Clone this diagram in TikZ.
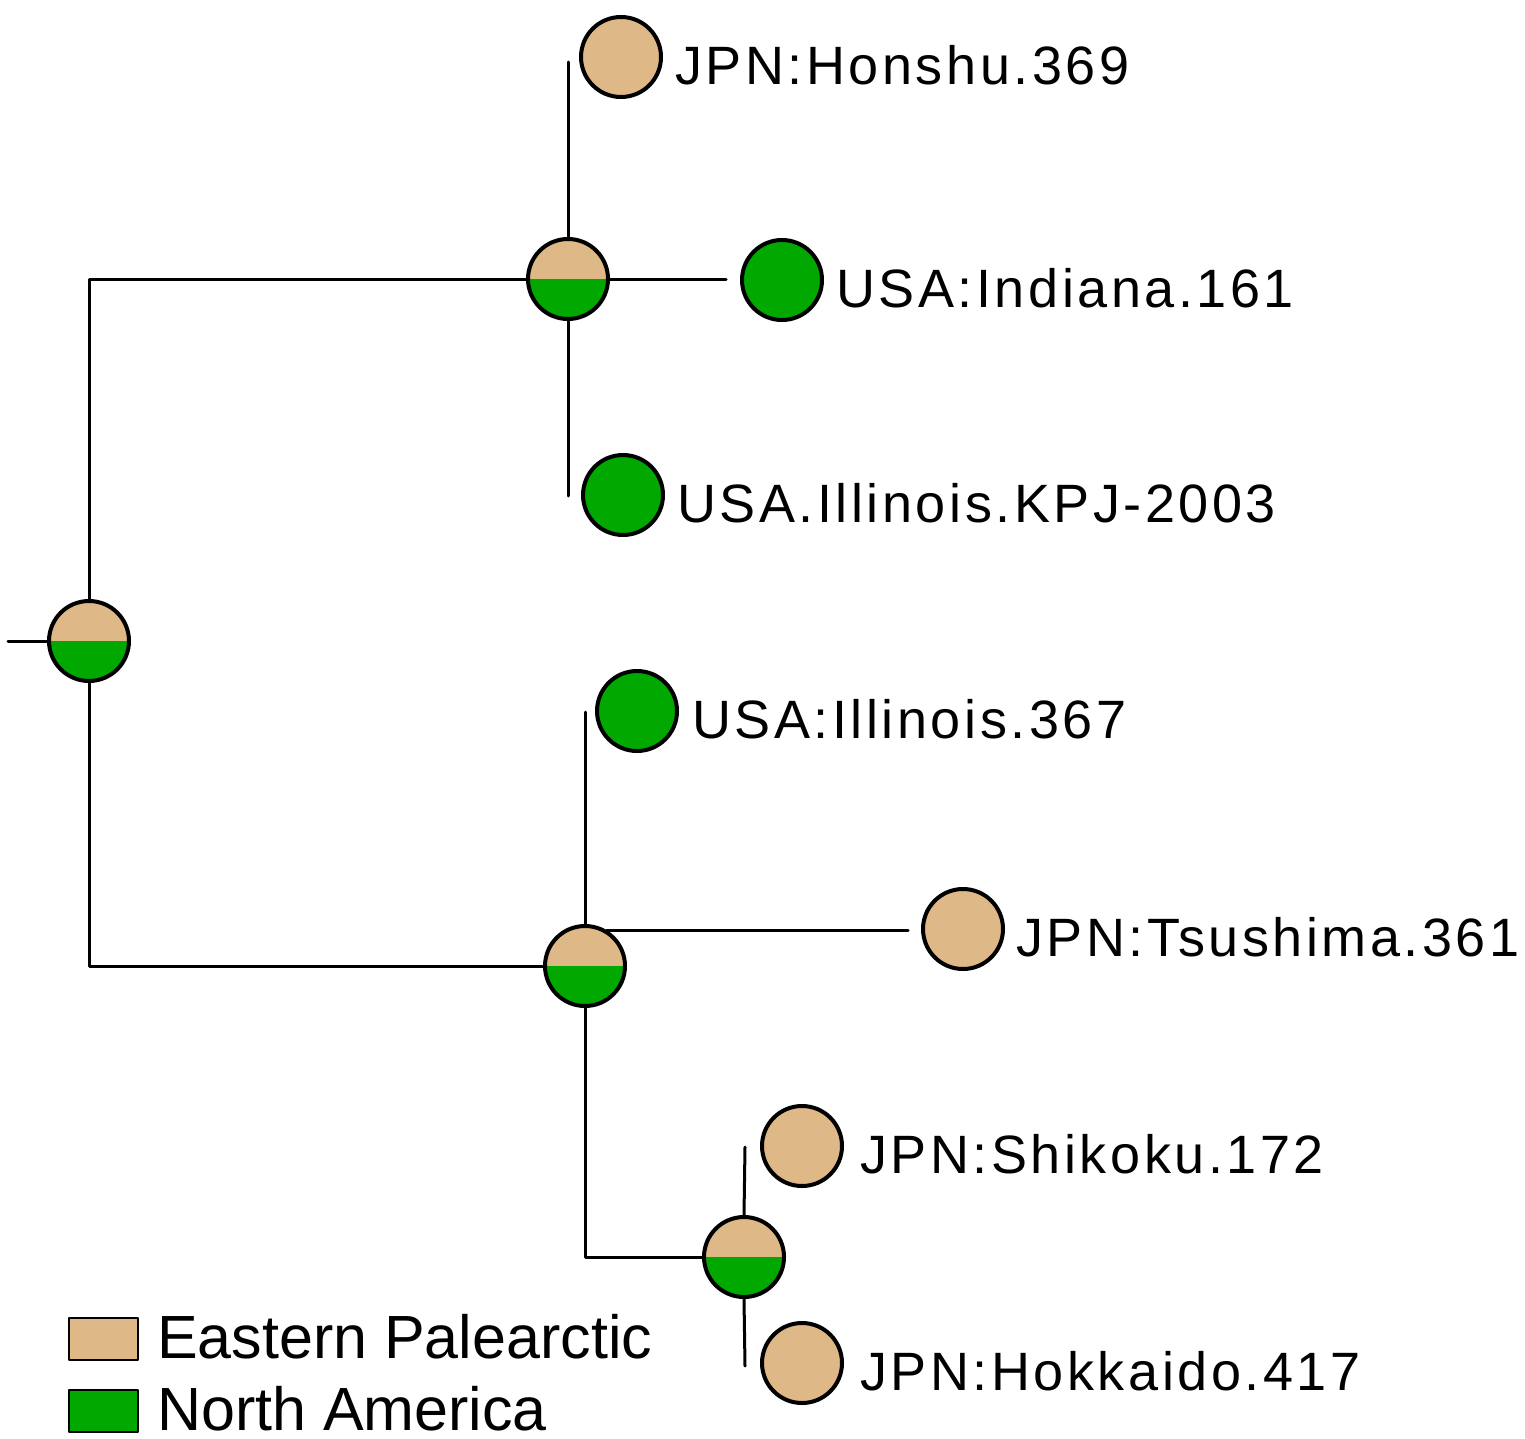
\documentclass[tikz,border=0pt]{standalone}
\usepackage{fontspec}
\setmainfont{Liberation Sans}
\newfontfamily\tipfont[LetterSpace=6.5]{Liberation Sans}
\usetikzlibrary{positioning}
\definecolor{palearc}{RGB}{222,184,135}
\definecolor{namer}{RGB}{0,168,0}
\begin{document}
\begin{tikzpicture}[x=0.5pt, y=-0.5pt, line join=round, line cap=round,
		edge/.style={line width=1.5pt},
		tip/.style={circle, draw, line width=2pt, minimum size=40pt, inner sep=0pt},
		pie/.style={tip, path picture={
				\fill[palearc] (path picture bounding box.north west) rectangle (path picture bounding box.east);
				\fill[namer] (path picture bounding box.west) rectangle (path picture bounding box.south east);}},
		tiplab/.style={font=\tipfont\fontsize{27pt}{31pt}\selectfont, inner sep=0pt, yshift=-4pt},
		legbox/.style={draw, line width=0.75pt, minimum width=34.5pt, minimum height=21pt, inner sep=0pt},
		leglab/.style={font=\fontsize{30.5pt}{36pt}\selectfont, inner sep=0pt, yshift=1pt}]
	\useasboundingbox (0,0) rectangle (1525,1439);
	% ancestral ranges
	\node[pie] (root) at (89,641) {};
	\node[pie] (up) at (568,279) {};
	\node[pie] (low) at (585,966) {};
	\node[pie] (hs) at (744,1257) {};
	% tips
	\node[tip, fill=palearc] (hon) at (621,57) {};
	\node[tip, fill=namer] (ind) at (782,280) {};
	\node[tip, fill=namer] (kpj) at (623,495) {};
	\node[tip, fill=namer] (ill) at (637,711) {};
	\node[tip, fill=palearc] (tsu) at (963,929) {};
	\node[tip, fill=palearc] (shi) at (802,1146) {};
	\node[tip, fill=palearc] (hok) at (802,1363) {};
	\node[tiplab, right=6pt of hon] {JPN:Honshu.369};
	\node[tiplab, right=6pt of ind] {USA:Indiana.161};
	\node[tiplab, right=6pt of kpj] {USA.Illinois.KPJ-2003};
	\node[tiplab, right=6.5pt of ill] {USA:Illinois.367};
	\node[tiplab, right=5.5pt of tsu] {JPN:Tsushima.361};
	\node[tiplab, right=8pt of shi] {JPN:Shikoku.172};
	\node[tiplab, right=8pt of hok] {JPN:Hokkaido.417};
	% branch ends
	\coordinate (rootStub) at (8,641);
	\coordinate (upTop) at (568,62);
	\coordinate (upBot) at (568,496);
	\coordinate (upEnd) at (726,279);
	\coordinate (lowTop) at (585,712);
	\coordinate (tsuEnd) at (908,931);
	\coordinate (hsTop) at (745,1147);
	\coordinate (hsBot) at (745,1366);
	\draw[edge] (rootStub) -- (root.west);
	\draw[edge] (root.north) |- (up.west);
	\draw[edge] (root.south) |- (low.west);
	\draw[edge] (up.north) -- (upTop) (up.south) -- (upBot) (up.east) -- (upEnd);
	\draw[edge] (low.north) -- (lowTop) (low.59) -- (low.59 -| tsuEnd);
	\draw[edge] (low.south) |- (hs.west);
	\draw[edge] (hs.north) -- (hsTop) (hs.south) -- (hsBot);
	% legend
	\node[legbox, fill=palearc] (lgEP) at (103.5,1339) {};
	\node[legbox, fill=namer] (lgNA) at (103.5,1411) {};
	\node[leglab, right=9pt of lgEP] {Eastern Palearctic};
	\node[leglab, right=9pt of lgNA] {North America};
\end{tikzpicture}
\end{document}
